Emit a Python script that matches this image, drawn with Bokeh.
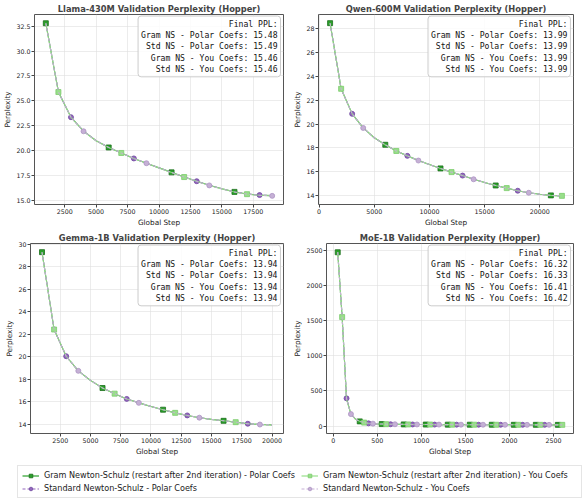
from bokeh.plotting import figure
from bokeh.layouts import column, row
from bokeh.models import (Range1d, FixedTicker, NumeralTickFormatter, Label,
                          Legend, LegendItem, ColumnDataSource)
from bokeh.embed import file_html
from bokeh.resources import INLINE

# ---------------- data ----------------
series_names = [
    "Gram Newton-Schulz (restart after 2nd iteration) - Polar Coefs",
    "Standard Newton-Schulz - Polar Coefs",
    "Gram Newton-Schulz (restart after 2nd iteration) - You Coefs",
    "Standard Newton-Schulz - You Coefs",
]
short_names = ["Gram NS - Polar Coefs", "Std NS - Polar Coefs",
               "Gram NS - You Coefs", "Std NS - You Coefs"]

llama_steps = [1000, 2000, 3000, 4000, 5000, 6000, 7000, 8000, 9000, 10000,
               11000, 12000, 13000, 14000, 15000, 16000, 17000, 18000, 19000]
llama_gram_polar = [32.80, 25.90, 23.36, 21.96, 21.00, 20.32, 19.77, 19.22, 18.74, 18.27,
                    17.82, 17.36, 16.93, 16.52, 16.17, 15.86, 15.64, 15.53, 15.48]
llama_std_polar = [32.81, 25.91, 23.36, 21.96, 21.01, 20.33, 19.78, 19.22, 18.75, 18.28,
                   17.82, 17.36, 16.93, 16.52, 16.17, 15.87, 15.65, 15.54, 15.49]
llama_gram_you = [32.79, 25.89, 23.35, 21.95, 21.00, 20.32, 19.77, 19.21, 18.74, 18.27,
                  17.81, 17.35, 16.92, 16.51, 16.16, 15.85, 15.63, 15.52, 15.46]
llama_std_you = [32.79, 25.89, 23.35, 21.95, 21.00, 20.32, 19.76, 19.21, 18.74, 18.26,
                 17.81, 17.35, 16.92, 16.51, 16.16, 15.85, 15.63, 15.52, 15.46]
llama_final = [15.48, 15.49, 15.46, 15.46]

qwen_steps = [1000, 2000, 3000, 4000, 5000, 6000, 7000, 8000, 9000, 10000, 11000,
              12000, 13000, 14000, 15000, 16000, 17000, 18000, 19000, 20000, 21000, 22000]
qwen_gram_polar = [28.46, 22.96, 20.86, 19.68, 18.86, 18.27, 17.75, 17.34, 16.95, 16.61, 16.29,
                   15.98, 15.69, 15.39, 15.11, 14.86, 14.64, 14.42, 14.25, 14.12, 14.03, 13.99]
qwen_std_polar = [28.46, 22.96, 20.86, 19.68, 18.86, 18.27, 17.75, 17.34, 16.95, 16.61, 16.29,
                  15.98, 15.69, 15.39, 15.11, 14.86, 14.64, 14.42, 14.25, 14.12, 14.03, 13.99]
qwen_gram_you = [28.45, 22.96, 20.86, 19.68, 18.86, 18.27, 17.75, 17.34, 16.95, 16.61, 16.29,
                 15.98, 15.69, 15.39, 15.11, 14.86, 14.64, 14.42, 14.25, 14.12, 14.03, 13.99]
qwen_std_you = [28.45, 22.96, 20.86, 19.68, 18.86, 18.27, 17.75, 17.34, 16.95, 16.61, 16.29,
                15.98, 15.69, 15.38, 15.11, 14.86, 14.64, 14.42, 14.25, 14.12, 14.03, 13.99]
qwen_final = [13.99, 13.99, 13.99, 13.99]

gemma_steps = [1000, 2000, 3000, 4000, 5000, 6000, 7000, 8000, 9000, 10000,
               11000, 12000, 13000, 14000, 15000, 16000, 17000, 18000, 19000, 20000]
gemma_gram_polar = [29.32, 22.43, 20.05, 18.75, 17.90, 17.22, 16.72, 16.25, 15.90, 15.58,
                    15.29, 15.01, 14.78, 14.58, 14.43, 14.30, 14.18, 14.04, 13.97, 13.94]
gemma_std_polar = [29.32, 22.43, 20.05, 18.75, 17.90, 17.22, 16.72, 16.25, 15.90, 15.58,
                   15.29, 15.01, 14.78, 14.58, 14.43, 14.30, 14.18, 14.04, 13.97, 13.94]
gemma_gram_you = [29.31, 22.43, 20.05, 18.75, 17.90, 17.22, 16.72, 16.25, 15.90, 15.58,
                  15.29, 15.01, 14.78, 14.58, 14.43, 14.30, 14.18, 14.04, 13.97, 13.94]
gemma_std_you = [29.31, 22.43, 20.05, 18.75, 17.90, 17.22, 16.72, 16.25, 15.90, 15.58,
                 15.29, 15.01, 14.78, 14.58, 14.43, 14.30, 14.18, 14.04, 13.97, 13.94]
gemma_final = [13.94, 13.94, 13.94, 13.94]

moe_steps = list(range(50, 2650, 50))
moe_gram_polar = [2480, 1560, 390, 170, 100, 66, 48, 38, 33, 29.5, 27.5, 26.0, 25.0, 24.2,
                  23.5, 22.9, 22.4, 21.9, 21.5, 21.1, 20.8, 20.5, 20.2, 19.9, 19.7, 19.5,
                  19.3, 19.1, 18.9, 18.7, 18.5, 18.35, 18.2, 18.05, 17.9, 17.75, 17.6, 17.5,
                  17.4, 17.3, 17.2, 17.1, 17.0, 16.9, 16.8, 16.72, 16.64, 16.56, 16.48,
                  16.42, 16.36, 16.32]
moe_std_polar = [2482, 1565, 395, 172, 101, 66.5, 48.2, 38.1, 33.1, 29.6, 27.6, 26.1, 25.1,
                 24.3, 23.5, 22.9, 22.4, 21.9, 21.5, 21.1, 20.8, 20.5, 20.2, 19.9, 19.7, 19.5,
                 19.3, 19.1, 18.9, 18.7, 18.5, 18.35, 18.2, 18.05, 17.9, 17.75, 17.6, 17.5,
                 17.4, 17.3, 17.2, 17.1, 17.0, 16.9, 16.8, 16.72, 16.64, 16.56, 16.49,
                 16.43, 16.37, 16.33]
moe_gram_you = [2480, 1555, 385, 168, 99, 66, 48.5, 38.5, 33.5, 30.0, 28.0, 26.4, 25.4, 24.6,
                23.9, 23.3, 22.7, 22.2, 21.8, 21.4, 21.0, 20.7, 20.4, 20.1, 19.9, 19.7, 19.5,
                19.3, 19.1, 18.9, 18.7, 18.5, 18.35, 18.2, 18.05, 17.9, 17.75, 17.62, 17.5,
                17.4, 17.3, 17.2, 17.1, 17.0, 16.9, 16.82, 16.74, 16.66, 16.58, 16.51,
                16.45, 16.41]
moe_std_you = [2482, 1558, 388, 170, 100, 66.5, 48.7, 38.6, 33.6, 30.1, 28.1, 26.5, 25.5,
               24.7, 24.0, 23.4, 22.8, 22.3, 21.8, 21.4, 21.0, 20.7, 20.4, 20.1, 19.9, 19.7,
               19.5, 19.3, 19.1, 18.9, 18.7, 18.5, 18.35, 18.2, 18.05, 17.9, 17.75, 17.62,
               17.5, 17.4, 17.3, 17.2, 17.1, 17.0, 16.9, 16.82, 16.74, 16.66, 16.58, 16.52,
               16.46, 16.42]
moe_final = [16.32, 16.33, 16.41, 16.42]

llama_xticks = [2500, 5000, 7500, 10000, 12500, 15000, 17500]
llama_yticks = [15.0, 17.5, 20.0, 22.5, 25.0, 27.5, 30.0, 32.5]
qwen_xticks = [0, 5000, 10000, 15000, 20000]
qwen_yticks = [14, 16, 18, 20, 22, 24, 26, 28]
gemma_xticks = [2500, 5000, 7500, 10000, 12500, 15000, 17500, 20000]
gemma_yticks = [14, 16, 18, 20, 22, 24, 26, 28, 30]
moe_xticks = [0, 500, 1000, 1500, 2000, 2500]
moe_yticks = [0, 500, 1000, 1500, 2000, 2500]

# ---------------- styles ----------------
FONT = "DejaVu Sans"
MONO = "DejaVu Sans Mono"
colors = ["#2ca02c", "#9467bd", "#98df8a", "#c5b0d5"]
edges = ["#1b6e1b", "#6f47a0", "#7ccc6c", "#ad94c4"]
markers = ["square", "circle", "square", "circle"]
dashes = ["solid", "3 2", "solid", "3 2"]
mark_offsets = [0, 2, 1, 3]  # markevery offsets (GP, SP, GY, SY)


def make_panel(title, steps, ys, finals, xticks, yticks, yfmt, width, left, right):
    xmin, xmax = min(steps), max(steps)
    allv = [v for s in ys for v in s]
    ymin, ymax = min(allv), max(allv)
    xp = 0.05 * (xmax - xmin)
    yp = 0.05 * (ymax - ymin)
    p = figure(width=width, height=229, output_backend="svg", toolbar_location=None,
               x_range=Range1d(xmin - xp, xmax + xp), y_range=Range1d(ymin - yp, ymax + yp),
               min_border_left=left, min_border_right=right, min_border_top=14,
               min_border_bottom=22, background_fill_color="white",
               border_fill_color="white")
    p.title.text = title
    p.title.align = "center"
    p.title.text_font = FONT
    p.title.text_font_size = "8.3px"
    p.title.text_font_style = "bold"
    p.title.standoff = 2
    p.title.offset = 0
    p.outline_line_color = "#555555"
    p.outline_line_width = 1
    for ax, ticks in ((p.xaxis[0], xticks), (p.yaxis[0], yticks)):
        ax.ticker = FixedTicker(ticks=ticks)
        ax.axis_line_color = None
        ax.major_tick_out = 3
        ax.major_tick_in = 0
        ax.minor_tick_out = 0
        ax.minor_tick_in = 0
        ax.major_tick_line_color = "#444444"
        ax.major_label_text_font = FONT
        ax.major_label_text_font_size = "6.3px"
        ax.major_label_text_color = "#222222"
        ax.major_label_standoff = 1
        ax.axis_label_text_font = FONT
        ax.axis_label_text_font_size = "7.3px"
        ax.axis_label_text_font_style = "normal"
        ax.axis_label_text_color = "#222222"
        ax.axis_label_standoff = 1
    p.xaxis.axis_label = "Global Step"
    p.yaxis.axis_label = "Perplexity"
    if yfmt:
        p.yaxis.formatter = NumeralTickFormatter(format=yfmt)
    p.grid.grid_line_color = "#dddddd"
    p.grid.grid_line_alpha = 0.7
    p.grid.grid_line_width = 0.8

    for i, yv in enumerate(ys):
        p.line(steps, yv, line_color=colors[i], line_width=1.1, line_alpha=0.85,
               line_dash=dashes[i])
        off = mark_offsets[i]
        p.scatter(steps[off::5], yv[off::5], marker=markers[i], size=5,
                  fill_color=colors[i], line_color=edges[i], line_width=0.8)

    txt = "Final PPL:\n" + "\n".join(f"{n}: {v:.2f}" for n, v in zip(short_names, finals))
    lab = Label(x=xmax + xp - 0.012 * (xmax - xmin + 2 * xp),
                y=ymax + yp - 0.008 * (ymax - ymin + 2 * yp),
                text=txt, text_align="right", text_baseline="top",
                text_font=MONO, text_font_size="8.1px", text_color="#111111",
                text_line_height=1.12,
                background_fill_color="white", background_fill_alpha=0.85,
                border_line_color="#cccccc", border_line_width=1, border_radius=3,
                padding=3)
    p.add_layout(lab)
    return p


p1 = make_panel("Llama-430M Validation Perplexity (Hopper)", llama_steps,
                [llama_gram_polar, llama_std_polar, llama_gram_you, llama_std_you],
                llama_final, llama_xticks, llama_yticks, "0.0", 290, 30, 7)
p2 = make_panel("Qwen-600M Validation Perplexity (Hopper)", qwen_steps,
                [qwen_gram_polar, qwen_std_polar, qwen_gram_you, qwen_std_you],
                qwen_final, qwen_xticks, qwen_yticks, None, 295, 28, 12)
p3 = make_panel("Gemma-1B Validation Perplexity (Hopper)", gemma_steps,
                [gemma_gram_polar, gemma_std_polar, gemma_gram_you, gemma_std_you],
                gemma_final, gemma_xticks, gemma_yticks, None, 290, 30, 7)
p4 = make_panel("MoE-1B Validation Perplexity (Hopper)", moe_steps,
                [moe_gram_polar, moe_std_polar, moe_gram_you, moe_std_you],
                moe_final, moe_xticks, moe_yticks, None, 295, 28, 12)

# ---------------- legend strip ----------------
lf = figure(width=585, height=42, output_backend="svg", toolbar_location=None,
            x_range=Range1d(0, 1), y_range=Range1d(0, 1),
            min_border=0, min_border_left=0, min_border_right=0,
            min_border_top=0, min_border_bottom=0)
lf.axis.visible = False
lf.grid.visible = False
lf.outline_line_color = None
items = []
for i, name in enumerate(series_names):
    # proxy renderers placed outside the visible range (legend keys only)
    src = ColumnDataSource(dict(x=[-5, -4], y=[-5, -4]))
    lr = lf.line("x", "y", source=src, line_color=colors[i], line_width=1.2,
                 line_dash=dashes[i])
    sr = lf.scatter("x", "y", source=src, marker=markers[i], size=5,
                    fill_color=colors[i], line_color=edges[i], line_width=0.8)
    items.append(LegendItem(label=name, renderers=[lr, sr]))
leg = Legend(items=items, location=(17, 2), ncols=2, orientation="vertical",
             label_text_font=FONT, label_text_font_size="8.1px",
             label_text_color="#222222", glyph_width=17, glyph_height=9,
             label_height=9, label_width=254, label_standoff=5, spacing=3,
             padding=4, margin=0,
             border_line_color="#cccccc", border_line_width=1,
             background_fill_color="white", background_fill_alpha=1)
lf.add_layout(leg)

layout = column(row(p1, p2), row(p3, p4), lf)
open("out.html", "w").write(file_html(layout, INLINE))
